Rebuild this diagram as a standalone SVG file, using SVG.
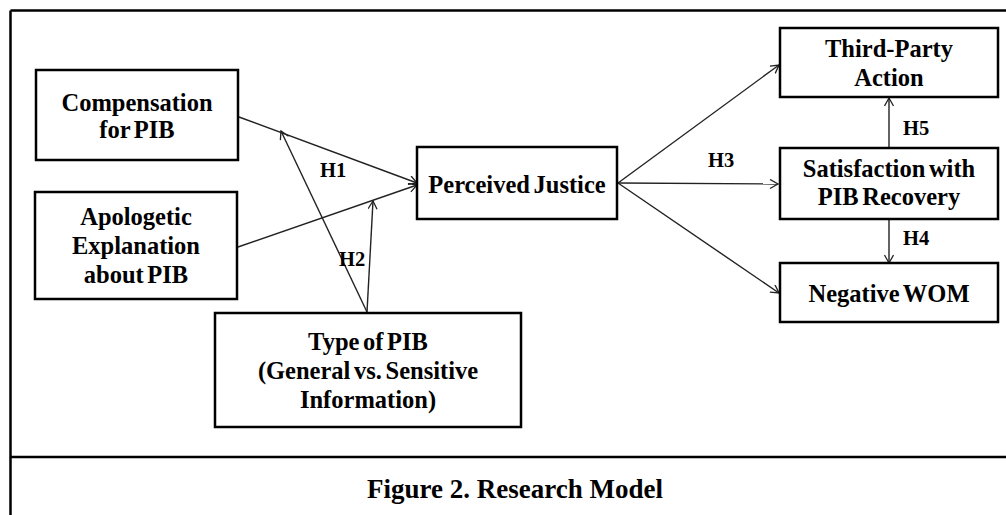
<svg xmlns="http://www.w3.org/2000/svg" width="1006" height="515" viewBox="0 0 1006 515">
<defs>
<marker id="arr" markerUnits="userSpaceOnUse" markerWidth="12" markerHeight="12" refX="9" refY="5" orient="auto">
<path d="M1,0.5 L9,5 L1,9.5" fill="none" stroke="#222" stroke-width="1.3"/>
</marker>
<style>
.box{fill:#fff;stroke:#000;stroke-width:2.5}
.t{font-family:"Liberation Serif","Times New Roman",serif;font-weight:bold;font-size:24.5px;fill:#000;text-anchor:middle;word-spacing:-2.5px}
.h{font-family:"Liberation Serif","Times New Roman",serif;font-weight:bold;font-size:20.5px;fill:#000}
.c{stroke:#222;stroke-width:1.4;fill:none;marker-end:url(#arr)}
.f{stroke:#000;stroke-width:2.5;fill:none}
</style>
</defs>
<rect width="1006" height="515" fill="#fff"/>
<g id="frame">
<path class="f" d="M10.5,10.5 H1006 M10.5,10.5 V515 M10.5,457 H1006"/>
</g>
<g id="connectors">
<line class="c" x1="239" y1="117" x2="417" y2="183"/>
<line class="c" x1="238" y1="247" x2="417" y2="185"/>
<line class="c" x1="367" y1="312" x2="281" y2="131"/>
<line class="c" x1="367" y1="312" x2="373" y2="201"/>
<line class="c" x1="618" y1="183" x2="779" y2="65"/>
<line class="c" x1="618" y1="183" x2="778" y2="184"/>
<line class="c" x1="618" y1="183" x2="779" y2="293"/>
<line class="c" x1="889" y1="148" x2="889" y2="98"/>
<line class="c" x1="889" y1="219" x2="889" y2="263"/>
<text class="h" x="320" y="177">H1</text>
<text class="h" x="339" y="266">H2</text>
<text class="h" x="708" y="167">H3</text>
<text class="h" x="903" y="245">H4</text>
<text class="h" x="903" y="135">H5</text>
</g>
<g id="compensation">
<rect class="box" x="36" y="70" width="202" height="90"/>
<text class="t" x="137" y="111">Compensation</text>
<text class="t" x="137" y="138">for PIB</text>
</g>
<g id="apologetic">
<rect class="box" x="35" y="192" width="202" height="107"/>
<text class="t" x="136" y="225">Apologetic</text>
<text class="t" x="136" y="254">Explanation</text>
<text class="t" x="136" y="283">about PIB</text>
</g>
<g id="justice">
<rect class="box" x="417" y="147" width="200" height="72"/>
<text class="t" x="517" y="193">Perceived Justice</text>
</g>
<g id="typepib">
<rect class="box" x="215" y="313" width="306" height="114"/>
<text class="t" x="368" y="350">Type of PIB</text>
<text class="t" x="368" y="379">(General vs. Sensitive</text>
<text class="t" x="368" y="408">Information)</text>
</g>
<g id="thirdparty">
<rect class="box" x="780" y="28" width="218" height="69"/>
<text class="t" x="889" y="57">Third-Party</text>
<text class="t" x="889" y="86">Action</text>
</g>
<g id="satisfaction">
<rect class="box" x="780" y="148" width="218" height="71"/>
<text class="t" x="889" y="177">Satisfaction with</text>
<text class="t" x="889" y="205">PIB Recovery</text>
</g>
<g id="negwom">
<rect class="box" x="780" y="263" width="218" height="59"/>
<text class="t" x="889" y="302">Negative WOM</text>
</g>
<text x="515" y="498" style="font-family:'Liberation Serif','Times New Roman',serif;font-weight:bold;font-size:27px;text-anchor:middle">Figure 2. Research Model</text>
</svg>
